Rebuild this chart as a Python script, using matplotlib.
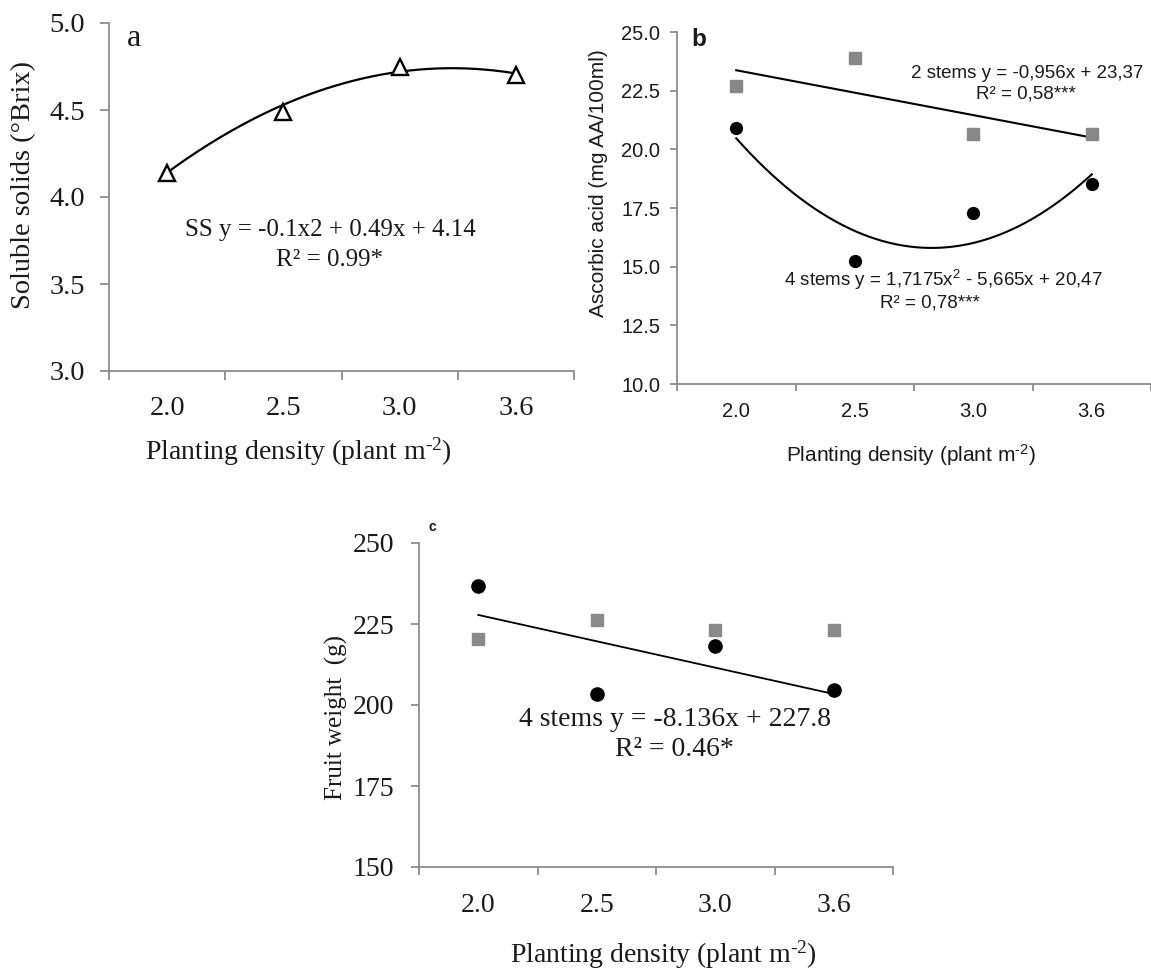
import numpy as np
import matplotlib
matplotlib.use('Agg')
import matplotlib.pyplot as plt

W, H = 1151, 974

# ---------------- data ----------------
density_labels = ['2.0', '2.5', '3.0', '3.6']
positions = [1, 2, 3, 4]

# panel a: soluble solids (°Brix)
ss_values = [4.14, 4.49, 4.75, 4.70]
ss_coef = [-0.1, 0.49, 4.14]          # trendline, x counted from first density

# panel b: ascorbic acid (mg AA/100ml)
aa_2stems = [22.70, 23.90, 20.64, 20.64]
aa_4stems = [20.92, 15.25, 17.30, 18.54]
aa_2_coef = [-0.956, 23.37]
aa_4_coef = [1.7175, -5.665, 20.47]

# panel c: fruit weight (g)
fw_2stems = [220.3, 226.1, 223.1, 223.1]
fw_4stems = [236.7, 203.5, 218.1, 204.7]
fw_4_coef = [-8.136, 227.8]

plt.rcParams['mathtext.fontset'] = 'custom'
plt.rcParams['mathtext.rm'] = 'Liberation Serif'
plt.rcParams['mathtext.sf'] = 'Liberation Sans'

SERIF = 'Liberation Serif'
SANS = 'Liberation Sans'
SPINE = '#8c8c8c'
TXT = '#1a1a1a'

fig = plt.figure(figsize=(W / 100, H / 100), dpi=100)


def fx(x):
    return x / W


def fy(y):
    return 1 - y / H


def make_axes(l, r, t, b):
    return fig.add_axes([fx(l), fy(b), (r - l) / W, (b - t) / H])


def style(ax, family, size, ylim, yticks, yfmt, ytick_len, ypad, xpad, xlim=(0.5, 4.5)):
    for s in ['top', 'right']:
        ax.spines[s].set_visible(False)
    for s in ['left', 'bottom']:
        ax.spines[s].set_color(SPINE)
        ax.spines[s].set_linewidth(1.3)
    ax.set_xlim(*xlim)
    ax.set_ylim(*ylim)
    ax.set_yticks(yticks)
    ax.set_yticklabels([yfmt.format(v) for v in yticks], family=family, fontsize=size, color=TXT)
    ax.set_xticks([0.5, 1.5, 2.5, 3.5, 4.5])
    ax.set_xticklabels([])
    ax.set_xticks(positions, minor=True)
    ax.set_xticklabels(density_labels, minor=True, family=family, fontsize=size, color=TXT)
    ax.tick_params(axis='y', which='major', direction='out', length=ytick_len, width=1.3,
                   color=SPINE, pad=ypad)
    ax.tick_params(axis='x', which='major', direction='out', length=ytick_len, width=1.3,
                   color=SPINE)
    ax.tick_params(axis='x', which='minor', length=0, pad=xpad)
    ax.set_facecolor('none')


xs = np.linspace(1, 4, 300)
HY = '\u2010'

# ---------------- panel a ----------------
ax_a = make_axes(109, 574, 23, 371)
style(ax_a, SERIF, 20.5, (3.0, 5.0), [3.0, 3.5, 4.0, 4.5, 5.0], '{:.1f}', 6.5, 10.5, 18)
ax_a.plot(xs, np.polyval(ss_coef, xs - 1), color='black', lw=1.6, zorder=2)
ax_a.plot(positions, ss_values, linestyle='none', marker='^', ms=11, mfc='white',
          mec='black', mew=1.7, zorder=3)
ax_a.set_ylabel('Soluble solids (°Brix)', family=SERIF, fontsize=20.5, color=TXT)
ax_a.set_xlabel('Planting density (plant m$\\mathrm{^{' + HY + '2}}$)', family=SERIF,
                fontsize=20, color=TXT)
ax_a.yaxis.set_label_coords(fx(24), fy(185), transform=fig.transFigure)
ax_a.xaxis.set_label_coords(fx(298), fy(452), transform=fig.transFigure)
ax_a.xaxis.label.set_va('center')
ax_a.yaxis.label.set_va('center')
fig.text(fx(134), fy(38), 'a', family=SERIF, fontsize=23, color=TXT, ha='center', va='center')
fig.text(fx(330), fy(230), 'SS y = -0.1x2 + 0.49x + 4.14', family=SERIF, fontsize=18,
         color=TXT, ha='center', va='center')
fig.text(fx(330), fy(260), 'R² = 0.99*', family=SERIF, fontsize=18, color=TXT,
         ha='center', va='center')

# ---------------- panel b ----------------
ax_b = make_axes(677, 1151, 32, 384)
style(ax_b, SANS, 14.5, (10.0, 25.0), [10.0, 12.5, 15.0, 17.5, 20.0, 22.5, 25.0], '{:.1f}',
      5, 7, 13, xlim=(0.5, 4.45))
ax_b.plot(xs, np.polyval(aa_2_coef, xs - 1), color='black', lw=1.5, zorder=2)
ax_b.plot(xs, np.polyval(aa_4_coef, xs - 1), color='black', lw=1.5, zorder=2)
ax_b.plot(positions, aa_2stems, linestyle='none', marker='s', ms=8, mfc='#888888',
          mec='#888888', zorder=3)
ax_b.plot(positions, aa_4stems, linestyle='none', marker='o', ms=8.5, mfc='black',
          mec='black', zorder=3)
ax_b.set_ylabel('Ascorbic acid (mg AA/100ml)', family=SANS, fontsize=15, color=TXT)
ax_b.set_xlabel('Planting density (plant m$\\mathsf{^{' + HY + '2}}$)', family=SANS,
                fontsize=15, color=TXT)
ax_b.yaxis.set_label_coords(fx(598), fy(183), transform=fig.transFigure)
ax_b.xaxis.set_label_coords(fx(911), fy(455), transform=fig.transFigure)
ax_b.xaxis.label.set_va('center')
ax_b.yaxis.label.set_va('center')
fig.text(fx(699), fy(39), 'b', family=SANS, fontsize=17.5, fontweight='bold', color=TXT,
         ha='center', va='center')
fig.text(fx(1027), fy(73), '2 stems y = -0,956x + 23,37', family=SANS, fontsize=13.5,
         color=TXT, ha='center', va='center')
fig.text(fx(1026), fy(94), 'R² = 0,58***', family=SANS, fontsize=13.5, color=TXT,
         ha='center', va='center')
fig.text(fx(943), fy(280), '4 stems y = 1,7175x$\\mathsf{^2}$ - 5,665x + 20,47', family=SANS,
         fontsize=13.5, color=TXT, ha='center', va='center')
fig.text(fx(930), fy(303), 'R² = 0,78***', family=SANS, fontsize=13.5, color=TXT,
         ha='center', va='center')

# ---------------- panel c ----------------
ax_c = make_axes(419, 893, 543, 867)
style(ax_c, SERIF, 20, (150, 250), [150, 175, 200, 225, 250], '{:.0f}', 6, 12, 19)
ax_c.plot(xs, np.polyval(fw_4_coef, xs - 1), color='black', lw=1.3, zorder=2)
ax_c.plot(positions, fw_2stems, linestyle='none', marker='s', ms=8.5, mfc='#8a8a8a',
          mec='#8a8a8a', zorder=3)
ax_c.plot(positions, fw_4stems, linestyle='none', marker='o', ms=9.5, mfc='black',
          mec='black', zorder=3)
ax_c.set_ylabel('Fruit weight  (g)', family=SERIF, fontsize=18, color=TXT)
ax_c.set_xlabel('Planting density (plant m$\\mathrm{^{' + HY + '2}}$)', family=SERIF,
                fontsize=20, color=TXT)
ax_c.yaxis.set_label_coords(fx(336), fy(717), transform=fig.transFigure)
ax_c.xaxis.set_label_coords(fx(663), fy(955), transform=fig.transFigure)
ax_c.xaxis.label.set_va('center')
ax_c.yaxis.label.set_va('center')
fig.text(fx(432), fy(527), 'c', family=SANS, fontsize=10, fontweight='bold', color=TXT,
         ha='center', va='center')
fig.text(fx(675), fy(720), '4 stems y = -8.136x + 227.8', family=SERIF, fontsize=20,
         color=TXT, ha='center', va='center')
fig.text(fx(674), fy(750), 'R² = 0.46*', family=SERIF, fontsize=20, color=TXT,
         ha='center', va='center')

fig.savefig('out.png', dpi=100, facecolor='white')
